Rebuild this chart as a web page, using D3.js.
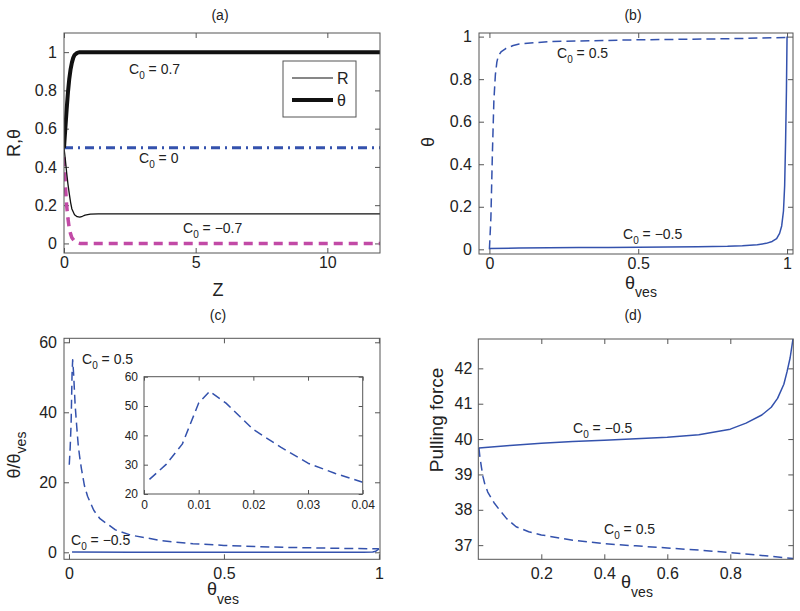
<!DOCTYPE html>
<html><head><meta charset="utf-8">
<script src="https://cdn.jsdelivr.net/npm/d3@7"></script>
<style>body{margin:0;background:#fff;} svg{display:block;} text{font-family:"Liberation Sans",Arial,Helvetica,sans-serif;fill:#222;}</style>
</head><body>
<svg id="c" width="800" height="611"></svg>
<script>
// ---------- DATA ----------
// Panel (a): Z vs R, theta
const aZ_theta07 = [0,0.05,0.1,0.15,0.2,0.25,0.3,0.35,0.4,0.5,0.6,0.7,1,12];
const aV_theta07 = [0.5,0.6,0.7,0.79,0.86,0.91,0.945,0.97,0.985,0.996,1,1,1,1];
const aZ_R07 = [0,0.05,0.1,0.15,0.2,0.25,0.3,0.4,0.5,0.6,0.7,0.8,1,1.3,12];
const aV_R07 = [0.5,0.44,0.37,0.31,0.26,0.215,0.18,0.15,0.14,0.138,0.142,0.148,0.153,0.155,0.155];
const aZ_C00 = [0,12];
const aV_C00 = [0.5,0.5];
const aZ_m07 = [0,0.05,0.1,0.15,0.2,0.25,0.3,0.4,0.5,0.6,12];
const aV_m07 = [0.45,0.31,0.2,0.13,0.08,0.05,0.03,0.012,0.004,0,0];
const aXTicks = [0,5,10];
const aYTicks = [0,0.2,0.4,0.6,0.8,1];

// Panel (b): theta_ves vs theta
const bX_p05 = [0,0.005,0.01,0.015,0.02,0.025,0.03,0.04,0.056,0.08,0.1,0.2,0.5,0.8,1];
const bV_p05 = [0,0.15,0.45,0.7,0.82,0.88,0.91,0.93,0.945,0.958,0.965,0.977,0.985,0.99,0.996];
const bX_m05 = [0,0.1,0.2,0.3,0.4,0.5,0.6,0.7,0.8,0.85,0.9,0.93,0.95,0.965,0.975,0.982,0.988,0.992,0.995,0.998,1];
const bV_m05 = [0.004,0.006,0.007,0.008,0.009,0.01,0.011,0.012,0.014,0.017,0.022,0.028,0.037,0.05,0.075,0.11,0.18,0.3,0.5,0.75,1];
const bXTicks = [0,0.5,1];
const bYTicks = [0,0.2,0.4,0.6,0.8,1];

// Panel (c): theta_ves vs theta/theta_ves
const cX_p05 = [0.001,0.004,0.007,0.01,0.012,0.015,0.02,0.025,0.03,0.035,0.04,0.05,0.06,0.08,0.1,0.15,0.2,0.3,0.4,0.5,0.6,0.7,0.8,0.9,1];
const cV_p05 = [25,30,37,51,55,51,42,36,30.5,27,24,19,16,12,9.6,6.4,4.9,3.3,2.45,1.97,1.65,1.42,1.24,1.1,1.0];
const cX_m05 = [0.01,0.2,0.5,0.8,0.9,0.95,0.98,0.99,1];
const cV_m05 = [0.1,0.04,0.02,0.018,0.025,0.04,0.1,0.3,1.0];
const cXTicks = [0,0.5,1];
const cYTicks = [0,20,40,60];
const insetXTicks = [0,0.01,0.02,0.03,0.04];
const insetYTicks = [20,30,40,50,60];

// Panel (d): theta_ves vs pulling force
const dX_m05 = [0.002,0.1,0.2,0.3,0.4,0.5,0.6,0.7,0.8,0.85,0.9,0.93,0.95,0.97,0.98,0.99,0.999];
const dV_m05 = [39.75,39.82,39.88,39.93,39.97,40.01,40.05,40.12,40.28,40.45,40.68,40.9,41.15,41.55,41.9,42.3,42.83];
const dX_p05 = [0.002,0.005,0.01,0.015,0.02,0.03,0.05,0.067,0.09,0.12,0.16,0.2,0.3,0.4,0.5,0.6,0.7,0.8,0.9,0.999];
const dV_p05 = [39.75,39.5,39.2,38.93,38.75,38.5,38.2,38.0,37.75,37.52,37.38,37.29,37.14,37.04,36.98,36.92,36.86,36.79,36.71,36.62];
const dXTicks = [0.2,0.4,0.6,0.8];
const dYTicks = [37,38,39,40,41,42];

// ---------- DRAWING ----------
const svg = d3.select("#c");
const BLUE = "#3452ad", MAG = "#c24aa6";
const zip = (xs, ys) => xs.map((x,i)=>[x, ys[i]]);

function panel(o){
  const g = svg.append("g");
  const x = d3.scaleLinear().domain(o.xd).range(o.xr);
  const y = d3.scaleLinear().domain(o.yd).range(o.yr);
  const cid = "clip" + Math.random().toString(36).slice(2);
  g.append("clipPath").attr("id",cid).append("rect")
    .attr("x",o.xr[0]).attr("y",o.yr[1]).attr("width",o.xr[1]-o.xr[0]).attr("height",o.yr[0]-o.yr[1]);
  g.append("rect").attr("x",o.xr[0]).attr("y",o.yr[1]).attr("width",o.xr[1]-o.xr[0]).attr("height",o.yr[0]-o.yr[1])
    .attr("fill","#fff");
  const tl = o.tick || 5, fs = o.fs || 16;
  const axStyle = sel => { sel.select(".domain").remove(); sel.selectAll("line").attr("stroke","#555"); sel.selectAll("text").style("font-size",fs+"px").attr("fill","#222"); };
  g.append("g").attr("transform",`translate(0,${o.yr[0]})`)
    .call(d3.axisBottom(x).tickValues(o.xt).tickSize(-tl).tickPadding(o.xpad||5).tickFormat(d3.format(o.xf||"")))
    .call(axStyle);
  g.append("g").attr("transform",`translate(0,${o.yr[1]})`)
    .call(d3.axisTop(x).tickValues(o.xt).tickSize(-tl).tickFormat(""))
    .call(axStyle);
  g.append("g").attr("transform",`translate(${o.xr[0]},0)`)
    .call(d3.axisLeft(y).tickValues(o.yt).tickSize(-tl).tickPadding(o.ypad||7).tickFormat(d3.format(o.yf||"")))
    .call(axStyle);
  g.append("g").attr("transform",`translate(${o.xr[1]},0)`)
    .call(d3.axisRight(y).tickValues(o.yt).tickSize(-tl).tickFormat(""))
    .call(axStyle);
  g.selectAll(".tick text").attr("font-family","Liberation Sans, Arial, sans-serif");
  const line = d3.line().x(d=>x(d[0])).y(d=>y(d[1]));
  const lg = g.append("g").attr("clip-path",`url(#${cid})`);
  o.series.forEach(s=>{
    lg.append("path").attr("d",line(s.d)).attr("fill","none").attr("stroke",s.c)
      .attr("stroke-width",s.w).attr("stroke-dasharray",s.dash||null).attr("stroke-linejoin","round");
  });
  g.append("rect").attr("x",o.xr[0]).attr("y",o.yr[1]).attr("width",o.xr[1]-o.xr[0]).attr("height",o.yr[0]-o.yr[1])
    .attr("fill","none").attr("stroke","#555").attr("stroke-width",1);
  return {g,x,y};
}

function cLabel(xp, yp, val){
  const t = svg.append("text").attr("x",xp).attr("y",yp).style("font-size","14px");
  t.append("tspan").text("C");
  t.append("tspan").attr("dy",5).style("font-size","10px").text("0");
  t.append("tspan").attr("dy",-5).text(" = " + val);
}
function title(xp, yp, s){
  svg.append("text").attr("x",xp).attr("y",yp).attr("text-anchor","middle").style("font-size","14px").text(s);
}
function thetaVes(xp, yp, sub){
  const t = svg.append("text").attr("x",xp).attr("y",yp).attr("text-anchor","middle").style("font-size","18px");
  t.append("tspan").text("θ");
  t.append("tspan").attr("dy",sub||9).style("font-size","14px").text("ves");
}

// Panel (a)
panel({xr:[64,380], yr:[253,33], xd:[0,12], yd:[-0.05,1.1], xt:aXTicks, yt:aYTicks, xpad:4,
  series:[
    {d:zip(aZ_C00,aV_C00), c:BLUE, w:3, dash:"9,5,2,5"},
    {d:zip(aZ_m07,aV_m07), c:MAG, w:3.5, dash:"9,6"},
    {d:zip(aZ_R07,aV_R07), c:"#111", w:1.3},
    {d:zip(aZ_theta07,aV_theta07), c:"#111", w:4}
  ]});
title(220, 20, "(a)");
svg.append("text").attr("transform","translate(20,143) rotate(-90)").attr("text-anchor","middle").style("font-size","18px").text("R,θ");
svg.append("text").attr("x",218).attr("y",296).attr("text-anchor","middle").style("font-size","18px").text("Z");
cLabel(129, 74, "0.7");
cLabel(139, 163, "0");
cLabel(183, 233, "−0.7");
// legend
svg.append("rect").attr("x",283).attr("y",61).attr("width",73).attr("height",56).attr("fill","#fff").attr("stroke","#555");
svg.append("line").attr("x1",292).attr("x2",333).attr("y1",78).attr("y2",78).attr("stroke","#111").attr("stroke-width",1.2);
svg.append("line").attr("x1",292).attr("x2",333).attr("y1",100).attr("y2",100).attr("stroke","#111").attr("stroke-width",4);
svg.append("text").attr("x",337).attr("y",84).style("font-size","16px").text("R");
svg.append("text").attr("x",337).attr("y",106).style("font-size","16px").text("θ");

// Panel (b)
panel({xr:[479,793], yr:[254,33], xd:[-0.035,1.02], yd:[-0.022,1.017], xt:bXTicks, yt:bYTicks, xpad:4,
  series:[
    {d:zip(bX_p05,bV_p05), c:BLUE, w:1.5, dash:"9,5"},
    {d:zip(bX_m05,bV_m05), c:BLUE, w:1.5}
  ]});
title(633, 20, "(b)");
svg.append("text").attr("transform","translate(434,142) rotate(-90)").attr("text-anchor","middle").style("font-size","18px").text("θ");
thetaVes(641, 289, 8);
cLabel(557, 58, "0.5");
cLabel(623, 239, "−0.5");

// Panel (c)
panel({xr:[64,380], yr:[559.3,338.3], xd:[-0.016,1.0035], yd:[-2,61.14], xt:cXTicks, yt:cYTicks, xpad:8,
  series:[
    {d:zip(cX_p05,cV_p05), c:BLUE, w:1.5, dash:"9,5"},
    {d:zip(cX_m05,cV_m05), c:BLUE, w:1.5}
  ]});
title(218, 320, "(c)");
{
  const t = svg.append("text").attr("transform","translate(20,455) rotate(-90)").attr("text-anchor","middle").style("font-size","18px");
  t.append("tspan").text("θ/θ");
  t.append("tspan").attr("dy",6).style("font-size","14px").text("ves");
}
thetaVes(223, 595);
cLabel(82, 364, "0.5");
cLabel(71, 545, "−0.5");
// inset
const insetSel = cX_p05.map((v,i)=>i).filter(i=>cX_p05[i]<=0.04);
panel({xr:[144,362.7], yr:[494,376.7], xd:[0,0.04], yd:[20,60], xt:insetXTicks, yt:insetYTicks, fs:12, tick:4, xpad:6, ypad:6,
  series:[
    {d:insetSel.map(i=>[cX_p05[i],cV_p05[i]]), c:BLUE, w:1.5, dash:"9,5"}
  ]});

// Panel (d)
panel({xr:[478.3,793.3], yr:[559.3,339], xd:[0,1.0], yd:[36.6,42.83], xt:dXTicks, yt:dYTicks, xpad:8, ypad:6,
  series:[
    {d:zip(dX_m05,dV_m05), c:BLUE, w:1.5},
    {d:zip(dX_p05,dV_p05), c:BLUE, w:1.5, dash:"9,5"}
  ]});
title(633, 320, "(d)");
svg.append("text").attr("transform","translate(443,420) rotate(-90)").attr("text-anchor","middle").style("font-size","19px").text("Pulling force");
thetaVes(637, 588);
cLabel(573, 433, "−0.5");
cLabel(604, 534, "0.5");
</script>
</body></html>
